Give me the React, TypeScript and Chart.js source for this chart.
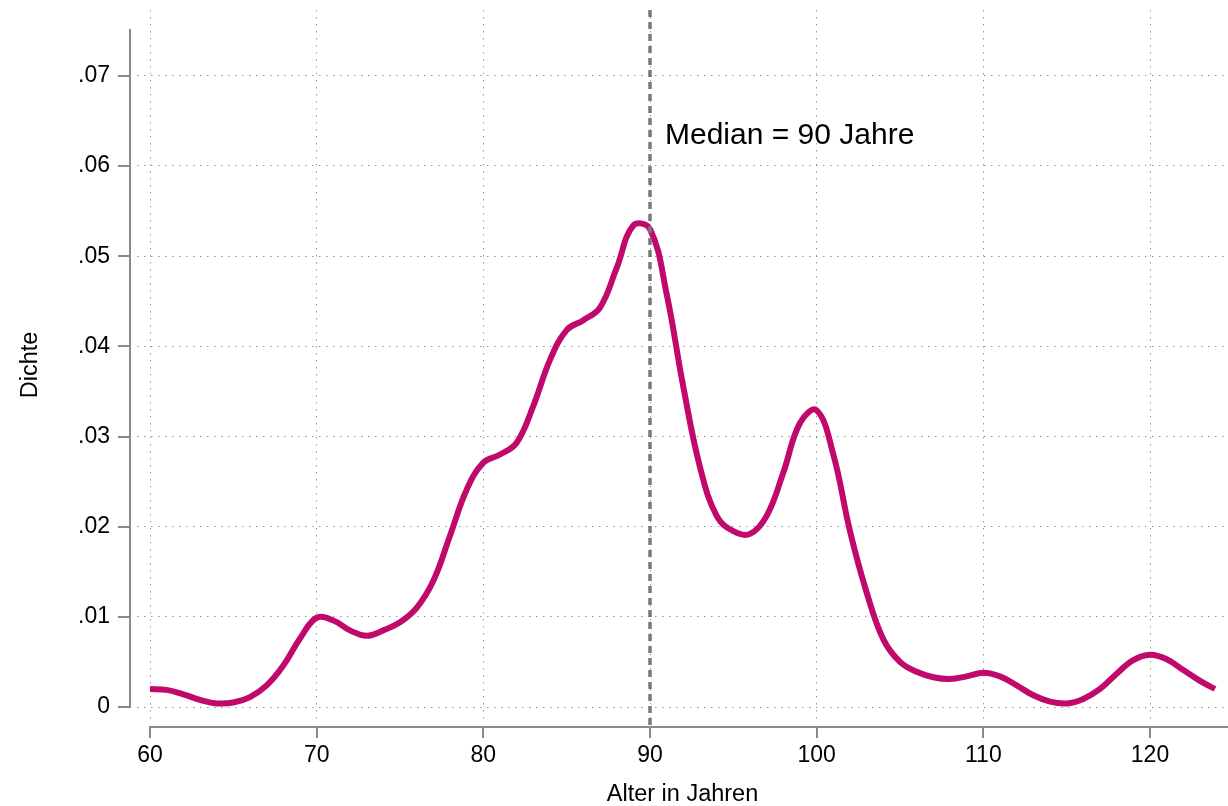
import { useEffect, useRef } from "react";
import { Chart, registerables } from "chart.js";

Chart.register(...registerables);

// ---- data ----
const ages = [
  60, 61, 62, 63, 64, 65, 66, 67, 68, 69, 70, 71, 72, 73, 74, 75, 76, 77, 78, 79,
  80, 81, 82, 83, 84, 85, 86, 87, 88, 89, 90, 91, 92, 93, 94, 95, 96, 97, 98, 99,
  100, 101, 102, 103, 104, 105, 106, 107, 108, 109, 110, 111, 112, 113, 114, 115,
  116, 117, 118, 119, 120, 121, 122, 123, 123.9,
];
const density = [
  0.002, 0.0019, 0.0014, 0.0008, 0.0004, 0.0005, 0.0011, 0.0024, 0.0046, 0.0076, 0.0099,
  0.0096, 0.0085, 0.0079, 0.0085, 0.0094, 0.011, 0.014, 0.019, 0.0241, 0.0271, 0.028,
  0.0293, 0.0334, 0.0385, 0.0418, 0.0429, 0.0443, 0.0487, 0.0534, 0.053, 0.0458,
  0.0355, 0.0266, 0.0212, 0.0195, 0.0192, 0.0212, 0.026, 0.0315, 0.0329, 0.028,
  0.0195, 0.0127, 0.0075, 0.005, 0.0039, 0.0033, 0.0031, 0.0034, 0.0038, 0.0034, 0.0024,
  0.0013, 0.0006, 0.0004, 0.0009, 0.002, 0.0037, 0.0052, 0.0058, 0.0053, 0.0041, 0.0029,
  0.002,
];
const xTicks = [60, 70, 80, 90, 100, 110, 120];
const yTicks = [0, 0.01, 0.02, 0.03, 0.04, 0.05, 0.06, 0.07];
const yTickLabels = ["0", ".01", ".02", ".03", ".04", ".05", ".06", ".07"];
const medianAge = 90;
const medianLabel = "Median = 90 Jahre";
const medianLabelValue = 0.0624;
const xTitle = "Alter in Jahren";
const yTitle = "Dichte";

// ---- axis ranges / styling ----
const X_MIN = 59.22;
const X_MAX = 124.68;
const Y_MIN = -0.00144;
const Y_MAX = 0.0773;
const Y_AXIS_TOP = 0.0752;
const FONT = '"Liberation Sans", Arial, Helvetica, sans-serif';
const LINE_COLOR = "#c1086b";
const AXIS_COLOR = "#8a8a8a";
const GRID_COLOR = "rgba(140,140,140,0.9)";

const stataPlugin = {
  id: "stataAxes",
  afterDatasetsDraw(chart: any) {
    const { ctx, chartArea } = chart;
    const xs = chart.scales.x;
    const ys = chart.scales.y;
    ctx.save();

    // y axis line (offset to the left of the plot region)
    const axX = chartArea.left - 7;
    ctx.strokeStyle = AXIS_COLOR;
    ctx.lineWidth = 2;
    ctx.beginPath();
    ctx.moveTo(axX, ys.getPixelForValue(Y_AXIS_TOP));
    ctx.lineTo(axX, ys.getPixelForValue(0) + 1);
    ctx.stroke();
    for (const t of yTicks) {
      const py = Math.round(ys.getPixelForValue(t));
      ctx.beginPath();
      ctx.moveTo(axX - 12, py);
      ctx.lineTo(axX, py);
      ctx.stroke();
    }

    // x axis line (offset below the plot region)
    const axY = chartArea.bottom + 7;
    ctx.beginPath();
    ctx.moveTo(xs.getPixelForValue(xTicks[0]) - 1, axY);
    ctx.lineTo(chartArea.right, axY);
    ctx.stroke();
    for (const t of xTicks) {
      const px = Math.round(xs.getPixelForValue(t));
      ctx.beginPath();
      ctx.moveTo(px, axY);
      ctx.lineTo(px, axY + 11);
      ctx.stroke();
    }

    // median line
    const mx = xs.getPixelForValue(medianAge);
    ctx.strokeStyle = "#7a7a7a";
    ctx.lineWidth = 3.5;
    ctx.setLineDash([7, 5]);
    ctx.beginPath();
    ctx.moveTo(mx, chartArea.top);
    ctx.lineTo(mx, axY);
    ctx.stroke();
    ctx.setLineDash([]);

    // median label
    ctx.fillStyle = "#000";
    ctx.font = `30px ${FONT}`;
    ctx.textAlign = "left";
    ctx.textBaseline = "alphabetic";
    ctx.fillText(medianLabel, mx + 15, ys.getPixelForValue(medianLabelValue));
    ctx.restore();
  },
};

export default function App() {
  const ref = useRef<HTMLCanvasElement | null>(null);

  useEffect(() => {
    if (!ref.current) return;
    const chart = new Chart(ref.current, {
      type: "line",
      data: {
        datasets: [
          {
            data: ages.map((a, i) => ({ x: a, y: density[i] })),
            borderColor: LINE_COLOR,
            borderWidth: 6,
            pointRadius: 0,
            fill: false,
            tension: 0.4,
          },
        ],
      },
      options: {
        animation: false,
        responsive: false,
        layout: { padding: { top: 10, right: 0, left: 0, bottom: 0 } },
        plugins: { legend: { display: false }, tooltip: { enabled: false } },
        scales: {
          x: {
            type: "linear",
            min: X_MIN,
            max: X_MAX,
            afterBuildTicks: (s: any) => {
              s.ticks = xTicks.map((v) => ({ value: v }));
            },
            afterFit: (s: any) => {
              s.height = 86;
              s.paddingLeft = 0;
              s.paddingRight = 0;
              s.paddingTop = 0;
              s.paddingBottom = 0;
            },
            grid: { color: GRID_COLOR, lineWidth: 1, drawTicks: false },
            border: { display: false, dash: [1.5, 5.5] },
            ticks: {
              color: "#000",
              font: { family: FONT, size: 23 },
              padding: 22,
              maxRotation: 0,
              callback: (v: any) => String(v),
            },
            title: {
              display: true,
              text: xTitle,
              color: "#000",
              font: { family: FONT, size: 23.5 },
              padding: { top: 0, bottom: -3 },
            },
          },
          y: {
            type: "linear",
            min: Y_MIN,
            max: Y_MAX,
            afterBuildTicks: (s: any) => {
              s.ticks = yTicks.map((v) => ({ value: v }));
            },
            afterFit: (s: any) => {
              s.width = 137;
              s.paddingTop = 0;
              s.paddingBottom = 0;
              s.paddingLeft = 0;
              s.paddingRight = 0;
            },
            grid: { color: GRID_COLOR, lineWidth: 1, drawTicks: false },
            border: { display: false, dash: [1.5, 5.5] },
            ticks: {
              color: "#000",
              font: { family: FONT, size: 23 },
              padding: 27,
              callback: (v: any) => {
                const i = yTicks.findIndex((t) => Math.abs(t - v) < 1e-9);
                return i >= 0 ? yTickLabels[i] : "";
              },
            },
            title: {
              display: true,
              text: yTitle,
              color: "#000",
              font: { family: FONT, size: 23.5 },
              padding: { top: 16, bottom: 0 },
            },
          },
        },
      },
      plugins: [stataPlugin],
    });
    return () => chart.destroy();
  }, []);

  return (
    <div style={{ position: "fixed", left: 0, top: 0, width: 1228, height: 806, background: "#fff" }}>
      <canvas ref={ref} width={1228} height={806} style={{ display: "block" }} />
    </div>
  );
}
